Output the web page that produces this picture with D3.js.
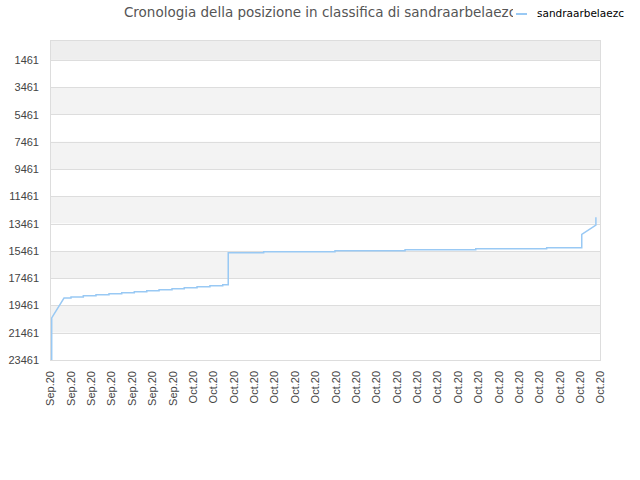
<!DOCTYPE html>
<html lang="it">
<head>
<meta charset="UTF-8">
<title>Cronologia della posizione</title>
<script src="https://cdn.jsdelivr.net/npm/d3@7"></script>
<style>
    body { margin: 0; background: #fff; }
    svg { display: block; font-family: "DejaVu Sans", sans-serif; }
    .title { font-size: 13.5px; fill: #555; }
    .legend text { font-size: 10.5px; fill: #000; }
    .axis text { font-size: 11px; fill: #444; }
</style>
</head>
<body>
<svg width="640" height="480"></svg>
<script>
// user and tick labels
const userName = "sandraarbelaezc";
const yTicks = [1461, 3461, 5461, 7461, 9461, 11461, 13461, 15461, 17461, 19461, 21461, 23461];

// ranking samples (date + hour, position)
const times = [
    "2020-09-24 02:00", "2020-09-24 02:00", "2020-09-24 16:30", "2020-09-25 00:45",
    "2020-09-25 00:45", "2020-09-25 15:15", "2020-09-25 15:15", "2020-09-26 06:10",
    "2020-09-26 06:10", "2020-09-26 21:30", "2020-09-26 21:30", "2020-09-27 12:30",
    "2020-09-27 12:30", "2020-09-28 03:20", "2020-09-28 03:20", "2020-09-28 18:00",
    "2020-09-28 18:00", "2020-09-29 08:30", "2020-09-29 08:30", "2020-09-29 23:45",
    "2020-09-29 23:45", "2020-09-30 14:10", "2020-09-30 14:10", "2020-10-01 05:15",
    "2020-10-01 05:15", "2020-10-01 20:25", "2020-10-01 20:25", "2020-10-02 11:30",
    "2020-10-02 11:30", "2020-10-02 18:00", "2020-10-02 18:00", "2020-10-04 11:45",
    "2020-10-04 11:45", "2020-10-07 23:45", "2020-10-07 23:45", "2020-10-11 10:20",
    "2020-10-11 10:20", "2020-10-14 21:35", "2020-10-14 21:35", "2020-10-18 09:10",
    "2020-10-18 09:10", "2020-10-20 02:30", "2020-10-20 02:30", "2020-10-20 19:10",
    "2020-10-20 19:10"
];
const ranks = [
    23461, 20380, 18916, 18916,
    18843, 18843, 18747, 18747,
    18674, 18674, 18601, 18601,
    18527, 18527, 18454, 18454,
    18381, 18381, 18307, 18307,
    18234, 18234, 18161, 18161,
    18087, 18087, 18014, 18014,
    17941, 17941, 15595, 15595,
    15522, 15522, 15448, 15448,
    15375, 15375, 15302, 15302,
    15229, 15229, 14246, 13564,
    13000
];

const parseTime = d3.timeParse("%Y-%m-%d %H:%M");
const data = times.map((t, i) => ({ date: parseTime(t), rank: ranks[i] }));

const svg = d3.select("svg");
const margin = { top: 40, right: 40, bottom: 120, left: 50 };
const width = 640 - margin.left - margin.right;
const height = 480 - margin.top - margin.bottom;

const x = d3.scaleTime()
    .domain([new Date(2020, 8, 24), new Date(2020, 9, 21)])
    .range([0, width]);

const y = d3.scaleLinear()
    .domain([0, 23461])
    .range([0, height]);

const g = svg.append("g").attr("transform", `translate(${margin.left},${margin.top})`);

// alternating bands
const bandEdges = [0].concat(yTicks);
g.selectAll("rect.band")
    .data(d3.pairs(bandEdges))
    .enter().append("rect")
    .attr("class", "band")
    .attr("x", 0)
    .attr("width", width)
    .attr("y", d => y(d[0]))
    .attr("height", d => y(d[1]) - y(d[0]))
    .attr("fill", (d, i) => i === 0 ? "#eeeeee" : (i % 2 === 0 ? "#f3f3f3" : "#ffffff"));

// gridlines
g.selectAll("line.grid")
    .data(yTicks)
    .enter().append("line")
    .attr("x1", 0).attr("x2", width)
    .attr("y1", d => Math.round(y(d)) + 0.5)
    .attr("y2", d => Math.round(y(d)) + 0.5)
    .attr("stroke", "#dddddd");

g.append("rect")
    .attr("x", 0.5).attr("y", 0.5)
    .attr("width", width).attr("height", height)
    .attr("fill", "none")
    .attr("stroke", "#dddddd");

// axes
const yAxis = g.append("g")
    .attr("class", "axis")
    .call(d3.axisLeft(y).tickValues(yTicks).tickFormat(d3.format("d")).tickSize(0).tickPadding(11));
yAxis.select(".domain").remove();

const xAxis = g.append("g")
    .attr("class", "axis")
    .attr("transform", `translate(0,${height})`)
    .call(d3.axisBottom(x).ticks(d3.timeDay.every(1)).tickFormat(d3.timeFormat("%b.%y")).tickSize(0));
xAxis.select(".domain").remove();
xAxis.selectAll("text")
    .attr("transform", "rotate(-90)")
    .attr("text-anchor", "end")
    .attr("x", -11)
    .attr("y", 0)
    .attr("dy", "0.35em");

// line
const line = d3.line()
    .x(d => x(d.date))
    .y(d => y(d.rank));

g.append("path")
    .datum(data)
    .attr("fill", "none")
    .attr("stroke", "#99c9f4")
    .attr("stroke-width", 1.5)
    .attr("d", line);

// title and legend
svg.append("text")
    .attr("class", "title")
    .attr("x", 320)
    .attr("y", 17)
    .attr("text-anchor", "middle")
    .text("Cronologia della posizione in classifica di " + userName);

const legend = svg.append("g").attr("class", "legend");
legend.append("rect")
    .attr("x", 513).attr("y", 2)
    .attr("width", 127).attr("height", 22)
    .attr("fill", "#fff");
legend.append("line")
    .attr("x1", 516).attr("x2", 527)
    .attr("y1", 14).attr("y2", 14)
    .attr("stroke", "#99c9f4")
    .attr("stroke-width", 2);
legend.append("text")
    .attr("x", 537)
    .attr("y", 17)
    .text(userName);
</script>
</body>
</html>
